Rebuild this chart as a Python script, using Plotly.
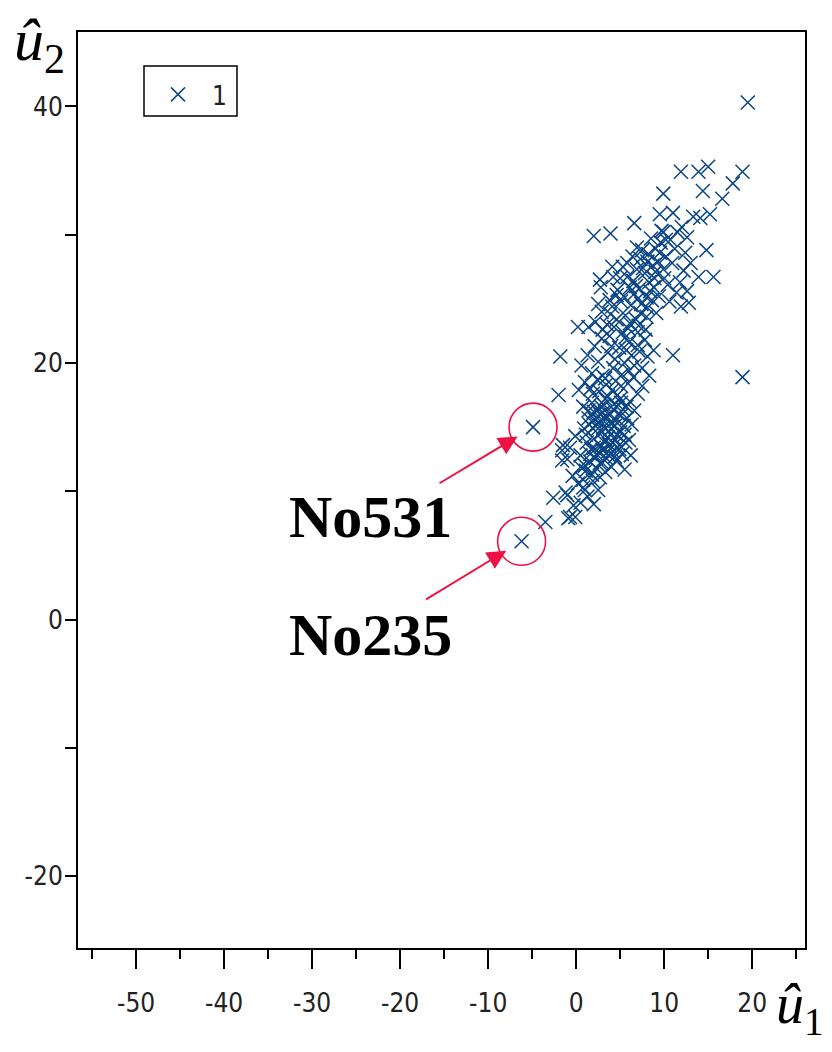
import plotly.graph_objects as go

# ---- data ----
u1_outer = [19.5, 11.9, 13.9, 15.0, 18.9, 9.9, 14.4, 17.8, 16.6, 6.6, 2.0, 3.9, 9.5, 11.0, 13.3, 14.1, 15.2, 12.0,
            12.6, 14.8, 9.9, 10.2, 7.3, 8.1, 4.1, 5.3, 12.4, 13.0, 13.9, 15.6, 2.7, 4.2, 5.8, 6.9, 0.2, 1.4, -1.8,
            -2.0, 11.0, 18.9, 2.8, 4.7, 6.1, -4.9, -6.2, -3.5, -2.6, -1.2, -0.7, -0.1, 0.8, -1.6, -1.0, 0.5, -1.5,
            -1.6, -0.7, -0.1, 0.5, 1.0, 0.8, 1.0, -1.0, -0.9, 1.8, 2.7, 2.7]
u2_outer = [40.3, 34.9, 34.9, 35.3, 34.9, 33.2, 33.4, 34.0, 32.8, 30.9, 29.9, 30.1, 31.6, 31.7, 31.4, 31.3, 31.6, 30.6,
            29.8, 28.8, 30.2, 29.6, 28.1, 27.9, 27.5, 27.5, 28.6, 27.8, 26.7, 26.7, 26.5, 26.7, 26.7, 27.3, 22.8, 22.8,
            20.5, 17.5, 20.6, 18.9, 25.9, 25.7, 25.9, 15.0, 6.1, 7.6, 9.5, 9.9, 8.0, 8.0, 10.3, 13.2, 12.5, 11.9, 13.6,
            12.4, 13.4, 14.3, 12.8, 12.0, 10.9, 10.1, 9.7, 7.9, 11.3, 11.1, 12.2]

u1_core = [1.5, 2.0, 2.4, 2.8, 3.1, 3.3, 3.6, 3.9, 4.2, 4.4, 4.7, 5.0, 5.3, 5.6, 2.2, 3.0, 3.7, 4.6, 1.8, 2.6,
           3.4, 4.1, 5.1, 5.8, 6.1, 1.2, 1.6, 2.9, 3.5, 4.0, 4.8, 5.4, 2.1, 2.5, 3.2, 3.8, 4.5, 5.2, 1.9, 2.3,
           3.3, 4.0, 5.7, 6.3, 1.4, 0.9, 2.7, 3.9, 4.3, 5.0,
           1.1, 1.7, 2.6, 3.4, 4.1, 4.9, 5.5, 2.0, 3.0, 3.6, 4.4, 5.1, 1.4, 2.4, 3.1,
           1.6, 2.3, 3.0, 3.7, 4.4, 5.1, 1.9, 2.7, 3.4, 4.2, 4.9, 2.0, 2.8, 3.6, 4.6]
u2_core = [15.2, 14.1, 16.3, 13.5, 15.0, 17.2, 14.2, 16.0, 13.1, 15.5, 17.5, 14.6, 16.4, 13.8, 12.6, 12.2, 12.8, 12.4,
           16.9, 17.8, 18.3, 17.9, 18.2, 15.7, 17.0, 13.8, 12.9, 14.6, 15.8, 14.9, 16.0, 15.1, 15.6, 14.9, 16.7, 13.6,
           14.0, 12.9, 17.6, 11.8, 11.5, 11.9, 16.6, 15.2, 16.3, 14.9, 16.0, 15.3, 16.8, 17.2,
           14.4, 13.3, 13.0, 14.0, 13.8, 13.3, 14.4, 16.2, 16.1, 13.1, 15.1, 15.9, 15.7, 15.2, 13.9,
           12.3, 12.9, 13.2, 14.7, 12.7, 16.9, 14.9, 15.5, 12.6, 16.4, 13.6, 13.4, 16.6, 17.4, 14.4]

u1_mid = [1.0, 1.8, 2.5, 3.0, 3.6, 4.2, 4.9, 5.5, 6.0, 6.6, 7.2, 7.8, 0.6, 1.3, 2.1, 2.9, 3.8, 4.5, 5.2, 5.9,
          6.5, 7.0, 3.3, 4.0, 5.6, 6.3, 1.6, 2.4, 0.3, 0.8, 7.5, 8.1,
          2.2, 2.9, 3.5, 4.1, 4.6, 5.1, 5.6, 6.2, 6.8, 7.4, 8.0, 8.6, 3.0, 4.3, 5.9, 7.1, 3.8, 2.5, 9.1, 5.4, 6.6,
          3.9, 4.6, 5.3, 6.1, 6.8, 7.6, 8.3, 9.0, 5.0, 5.8, 6.4, 7.3, 8.1, 8.8, 4.4, 5.7, 7.9, 9.5, 6.0, 7.0]
u2_mid = [18.5, 19.2, 20.1, 19.0, 20.8, 19.6, 21.2, 20.0, 21.6, 19.8, 20.9, 21.8, 19.8, 20.6, 21.3, 21.9, 22.1, 18.6,
          19.1, 18.4, 18.9, 22.4, 18.8, 21.3, 22.0, 20.6, 18.0, 18.7, 17.9, 16.6, 19.6, 20.5,
          23.2, 24.0, 23.0, 24.4, 23.4, 24.8, 23.7, 24.5, 23.4, 24.6, 23.6, 24.9, 22.6, 22.8, 22.7, 22.9, 24.9, 24.6,
          23.9, 25.2, 25.4,
          23.8, 25.3, 22.4, 23.1, 26.0, 27.4, 26.3, 27.1, 26.6, 27.8, 28.3, 23.9, 24.3, 25.9, 20.3, 21.0, 22.6, 28.6,
          19.4, 21.4]

u1_upper = [6.5, 7.2, 7.8, 8.4, 8.9, 9.4, 9.9, 10.4, 10.9, 11.4, 8.2, 9.0, 9.6, 10.2, 10.7, 11.2, 7.5, 8.7, 9.3, 10.0,
            11.8, 12.2, 12.6, 7.0, 8.0, 8.5, 9.7, 11.5, 6.9, 10.6, 11.9, 12.8]
u2_upper = [26.4, 25.8, 27.0, 25.6, 26.6, 25.2, 27.3, 26.1, 27.8, 25.5, 28.5, 28.9, 29.4, 28.3, 29.6, 28.9, 28.8, 27.6,
            27.9, 26.6, 26.3, 27.2, 25.6, 25.0, 25.1, 29.7, 30.3, 30.2, 29.0, 24.8, 24.4, 24.7]

u1_tail = [0.2, 1.3, 1.9, 2.5, 0.5, -0.4, 1.1, 2.0, -0.3, 6.0, 6.6, 7.0, 7.5, 8.3, 8.8, 6.2, 5.5]
u2_tail = [10.6, 9.6, 10.8, 10.1, 9.1, 11.2, 11.6, 9.0, 8.9, 14.0, 16.3, 17.6, 18.2, 19.0, 21.0, 12.8, 11.7]

u1 = u1_outer + u1_core + u1_mid + u1_upper + u1_tail
u2 = u2_outer + u2_core + u2_mid + u2_upper + u2_tail

label_names = ["No531", "No235"]
label_u1 = [-4.9, -6.2]
label_u2 = [15.0, 6.1]

x_range = [-56.6, 26.0]
y_range = [-25.6, 45.8]
x_ticks = [-50, -40, -30, -20, -10, 0, 10, 20]
y_ticks = [-20, 0, 20, 40]

BLUE = "#0a4585"
RED = "#ee1144"
TICKFONT = dict(family="Liberation Sans Narrow, DejaVu Sans Condensed, Arial Narrow, Liberation Sans", size=26, color="#222")
SERIF = "Liberation Serif, Times New Roman, serif"

fig = go.Figure()
fig.add_trace(go.Scatter(
    x=u1, y=u2, mode="markers", name="1",
    marker=dict(symbol="x-thin-open", size=14, color=BLUE, line=dict(color=BLUE, width=1.5)),
))

W, H = 832, 1052
L, R, T, B = 78, 27, 32, 104
pw, ph = W - L - R, H - T - B

def px(xp):
    return (xp - L) / pw

def py(yp):
    return (H - B - yp) / ph

annotations = []
label_pos = [(370, 517), (370, 635)]
arrow_off = [(-95, 57), (-97, 59)]
for name, xv, yv, (lx, ly), (axo, ayo) in zip(label_names, label_u1, label_u2, label_pos, arrow_off):
    annotations.append(dict(
        x=xv, y=yv, xref="x", yref="y", text="", showarrow=True,
        ax=axo, ay=ayo, axref="pixel", ayref="pixel",
        arrowhead=2, arrowsize=1.9, arrowwidth=2, arrowcolor=RED, standoff=18, startstandoff=0,
    ))
    annotations.append(dict(
        x=px(lx), y=py(ly), xref="paper", yref="paper", text="<b>" + name + "</b>", showarrow=False,
        xanchor="center", yanchor="middle",
        font=dict(family=SERIF, size=60, color="black"),
    ))

annotations.append(dict(
    x=px(12), y=py(5), xref="paper", yref="paper", showarrow=False, xanchor="left", yanchor="top",
    text="<i>û</i><sub>2</sub>", font=dict(family=SERIF, size=60, color="black"),
))
annotations.append(dict(
    x=px(774), y=py(971), xref="paper", yref="paper", showarrow=False, xanchor="left", yanchor="top",
    text="<i>û</i><sub>1</sub>", font=dict(family=SERIF, size=56, color="black"),
))

shapes = []
for xv, yv in zip(label_u1, label_u2):
    shapes.append(dict(
        type="circle", xref="x", yref="y", xsizemode="pixel", ysizemode="pixel",
        xanchor=xv, yanchor=yv, x0=-24, x1=24, y0=-24, y1=24,
        line=dict(color=RED, width=1.6),
    ))
# legend frame
shapes.append(dict(
    type="rect", xref="paper", yref="paper",
    x0=px(144), x1=px(237), y0=py(116), y1=py(66),
    line=dict(color="black", width=1.5),
))

fig.update_layout(
    width=W, height=H,
    margin=dict(l=L, r=R, t=T, b=B, pad=0),
    paper_bgcolor="white", plot_bgcolor="white",
    showlegend=True,
    legend=dict(
        x=px(144), y=py(71), xanchor="left", yanchor="top",
        borderwidth=0, bgcolor="rgba(0,0,0,0)",
        font=TICKFONT, itemwidth=58,
    ),
    annotations=annotations,
    shapes=shapes,
    xaxis=dict(
        range=x_range, tickvals=x_ticks, ticktext=[str(v) for v in x_ticks],
        showgrid=False, zeroline=False,
        showline=True, linecolor="black", linewidth=2, mirror=True,
        ticks="outside", ticklen=19, tickwidth=1.5, tickcolor="black",
        ticklabelstandoff=12, tickfont=TICKFONT,
        minor=dict(dtick=5, tick0=0, ticks="outside", ticklen=9, tickwidth=1.5, tickcolor="black"),
    ),
    yaxis=dict(
        range=y_range, tickvals=y_ticks, ticktext=[str(v) for v in y_ticks],
        showgrid=False, zeroline=False,
        showline=True, linecolor="black", linewidth=2, mirror=True,
        ticks="outside", ticklen=11, tickwidth=1.5, tickcolor="black",
        ticklabelstandoff=-3, tickfont=TICKFONT,
        minor=dict(dtick=10, tick0=0, ticks="outside", ticklen=11, tickwidth=1.5, tickcolor="black"),
    ),
)

fig.write_html("out.html")
